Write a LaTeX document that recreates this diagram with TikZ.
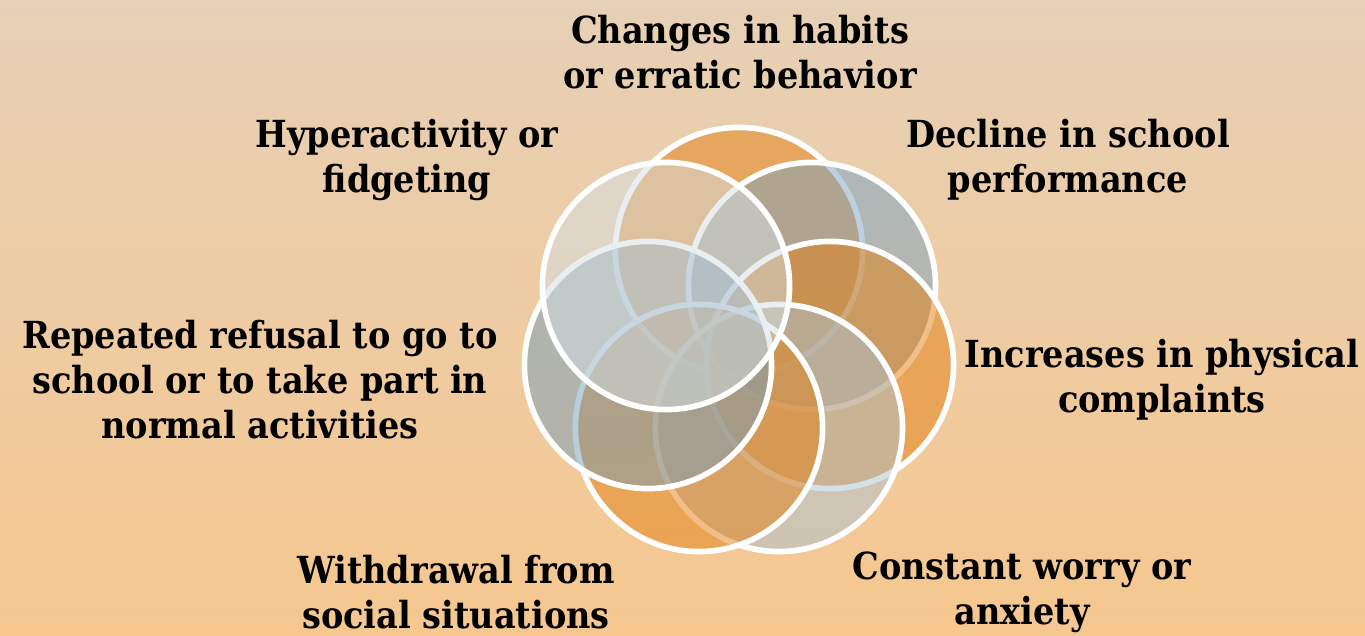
\documentclass[tikz,border=0pt]{standalone}
\usepackage{fontspec}
\setmainfont{DejaVu Serif Condensed}
\usetikzlibrary{positioning}
\definecolor{bgtop}{RGB}{230,208,182}
\definecolor{bgbottom}{RGB}{246,199,143}
\definecolor{orangefill}{RGB}{227,128,20}
\definecolor{bluefill}{RGB}{121,163,194}
\definecolor{paleblue}{RGB}{171,194,211}
\definecolor{steelfill}{RGB}{117,158,186}
\definecolor{mistfill}{RGB}{213,223,228}
\begin{document}
\begin{tikzpicture}
[x=0.01cm,y=-0.01cm,
  circledecorate/.style={shape=circle,minimum size=2.47cm,inner sep=0pt,
    draw=white,line width=1.6pt,fill opacity=0.5},%
  labeldecorate/.style={align=center,inner sep=0pt,
    font=\bfseries\fontsize{10.6}{12.8}\selectfont}]
%% background
\shade[top color=bgtop,bottom color=bgbottom] (0,0) rectangle (1365,636);
\useasboundingbox (0,0) rectangle (1365,636);
%% circles, drawn clockwise from the top
\foreach \nodename/\x/\y/\col in {c1/739/251/orangefill, c2/812/286/bluefill,
  c3/830/365/orangefill, c4/779/428/paleblue, c5/699/428/orangefill,
  c6/648/365/steelfill, c7/666/286/mistfill} {
  \node (\nodename) at (\x,\y) [circledecorate,fill=\col] {};
}
%% labels
\node (l1) at (740,52) [labeldecorate] {Changes in habits\\or erratic behavior};
\node (l2) at (1068,160) [labeldecorate] {Decline in school\\performance};
\node (l3) at (1162,380) [labeldecorate] {Increases in physical\\complaints};
\node (l4) at (1022,592) [labeldecorate] {Constant worry or\\anxiety};
\node (l5) at (456,592) [labeldecorate] {Withdrawal from\\social situations};
\node (l6) at (260,380) [labeldecorate] {Repeated refusal to go to\\school or to take part in\\normal activities};
\node (l7) at (407,160) [labeldecorate] {Hyperactivity or\\fidgeting};
\end{tikzpicture}
\end{document}
